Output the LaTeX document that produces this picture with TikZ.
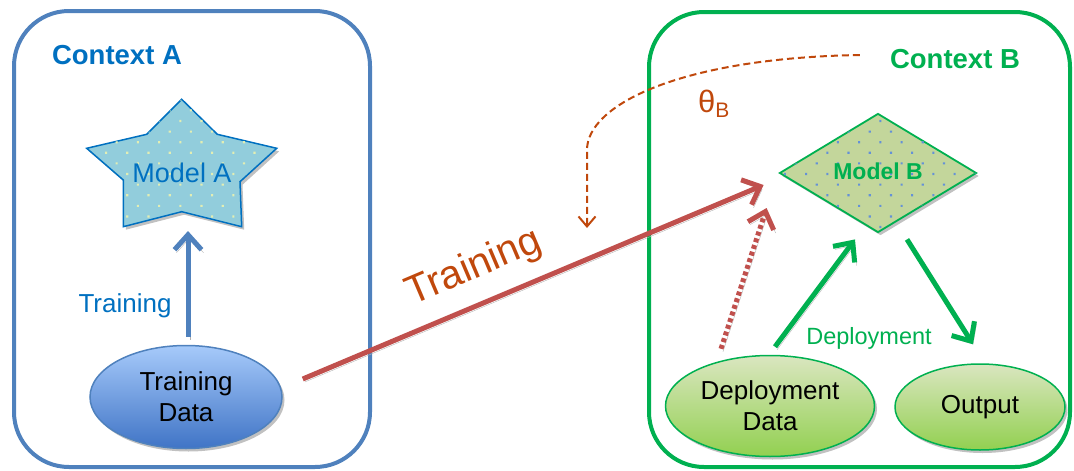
\documentclass[tikz,border=0pt]{standalone}
\usepackage{fontspec}
\setmainfont{Liberation Sans}
\usetikzlibrary{arrows.meta,shapes.geometric,shadows,patterns.meta}

\definecolor{frameblue}{RGB}{79,129,189}
\definecolor{textblue}{RGB}{0,112,192}
\definecolor{leafgreen}{RGB}{0,176,80}
\definecolor{rust}{RGB}{192,72,12}
\definecolor{brick}{RGB}{192,80,77}
\definecolor{starfill}{RGB}{146,205,220}
\definecolor{stardot}{RGB}{226,238,180}
\definecolor{olivefill}{RGB}{195,214,155}
\definecolor{olivedot}{RGB}{100,145,215}
\definecolor{skytop}{RGB}{166,202,250}
\definecolor{skybottom}{RGB}{64,116,198}
\definecolor{limetop}{RGB}{218,230,192}
\definecolor{limebottom}{RGB}{146,208,80}

\tikzset{
  ctxbox/.style={rectangle, rounded corners=55pt, line width=4pt, inner sep=0pt},
  ctxlabel/.style={font=\fontsize{27.5}{30}\selectfont\bfseries, inner sep=0pt},
  softshadow/.style={drop shadow={shadow xshift=2.5pt, shadow yshift=-3pt, opacity=0.35, fill=black!70}},
  dotfill/.style={postaction={pattern={Dots[distance=15pt,angle=45,radius=1.5pt]}, pattern color=#1}},
  blob/.style={ellipse, inner sep=0pt, align=center, line width=1.5pt, softshadow,
    font=\fontsize{26}{31}\selectfont},
  bluedata/.style={blob, draw=frameblue, shading=axis, top color=skytop, bottom color=skybottom},
  greendata/.style={blob, draw=leafgreen, shading=axis, top color=limetop, bottom color=limebottom},
  arrshadow/.style={preaction={draw=black!30, transform canvas={shift={(2pt,-3pt)}}}},
  fatarrow/.style={line width=5pt, arrshadow, -{Straight Barb[length=15pt,width=27pt]}},
  dotarrow/.style={fatarrow, draw=brick, dash pattern=on 4pt off 3pt},
  thetaarrow/.style={draw=rust, line width=2pt, dash pattern=on 7pt off 4pt,
    -{Straight Barb[length=10pt,width=17pt]}},
}

\begin{document}
\begin{tikzpicture}[x=1pt,y=-1pt]
\useasboundingbox (0,0) rectangle (1074,471);

% the two contexts
\node[ctxbox, draw=frameblue, minimum width=356pt, minimum height=456pt] (boxA) at (192,239) {};
\node[ctxbox, draw=leafgreen, minimum width=421pt, minimum height=455pt] (boxB) at (859.5,239.5) {};
\node[ctxlabel, text=textblue] (ctxA) at (117,55) {Context A};
\node[ctxlabel, text=leafgreen] (ctxB) at (955,59) {Context B};

% model A: dotted star
\filldraw[fill=starfill, draw=textblue, line width=1.5pt, softshadow, dotfill=stardot]
  (181.7,99.3) -- (217.3,134.3) -- (276.7,148.3) -- (240,181.7) -- (241.7,226.7)
  -- (181.7,211.7) -- (123.3,226.7) -- (123.3,180) -- (86.7,148.3) -- (146.7,134.3) -- cycle;
\node[text=textblue, font=\fontsize{27}{30}\selectfont, inner sep=0pt] (modelA) at (182,173) {Model A};

% model B: dotted diamond
\node[diamond, inner sep=0pt, minimum width=197pt, minimum height=119pt,
  fill=olivefill, draw=leafgreen, line width=1.8pt, softshadow, dotfill=olivedot]
  (modelB) at (878,173) {};
\node[text=leafgreen, font=\fontsize{23}{26}\selectfont\bfseries, inner sep=0pt] (modelBlbl) at (878,171) {Model B};

% data and output
\node[bluedata, minimum width=192pt, minimum height=103pt] (td) at (186,397) {Training\\Data};
\node[greendata, minimum width=209pt, minimum height=101pt] (dd) at (770,406) {Deployment\\Data};
\node[greendata, minimum width=170pt, minimum height=86pt] (out) at (980,407) {Output};

% training inside context A
\draw[fatarrow, draw=frameblue] ([xshift=2pt,yshift=8pt]td.north) -- ([xshift=6pt,yshift=-58pt]modelA.center);
\node[text=textblue, font=\fontsize{26}{30}\selectfont, inner sep=0pt] (trainA) at (125,306) {Training};

% training across contexts
\draw[fatarrow, draw=brick] ([xshift=20pt,yshift=18pt]td.east) -- ([xshift=-15pt,yshift=-12pt]modelB.west);
\node[rotate=23, text=rust, font=\fontsize{40}{44}\selectfont, inner sep=0pt] (trainAB) at (474,268) {Training};
\draw[dotarrow] ([xshift=-49pt,yshift=6pt]dd.north) -- ([xshift=-12pt,yshift=-35pt]modelB.west);

% deployment in context B
\draw[fatarrow, draw=leafgreen] ([xshift=5pt,yshift=8pt]dd.north) -- ([xshift=-23pt,yshift=-6pt]modelB.south);
\draw[fatarrow, draw=leafgreen] ([xshift=29pt,yshift=-6pt]modelB.south) -- ([xshift=-7pt,yshift=19pt]out.north);
\node[text=leafgreen, font=\fontsize{23.5}{26}\selectfont, inner sep=0pt] (deploy) at (869,338) {Deployment};

% parameters handed back
\coordinate (thetaTip) at (587,228);
\draw[thetaarrow] ([xshift=-30pt,yshift=4pt]ctxB.west) .. controls (680,58) and (587,105) .. (587,150) -- (thetaTip);
\node[text=rust, font=\fontsize{31}{31}\selectfont, inner sep=0pt, anchor=base west] (theta) at (698,112)
  {θ\raisebox{-5pt}{\fontsize{21}{21}\selectfont B}};
\end{tikzpicture}
\end{document}
